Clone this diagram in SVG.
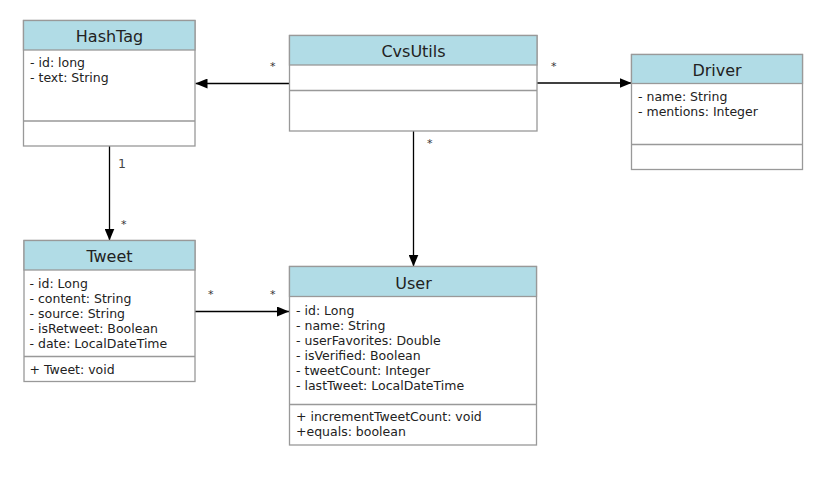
<svg xmlns="http://www.w3.org/2000/svg" width="825" height="493" viewBox="0 0 825 493">
<defs>
<style>
.box{fill:#ffffff;stroke:#999999;stroke-width:1.3}
.hdr{fill:#b1dce6;stroke:#999999;stroke-width:1.3}
.sep{stroke:#999999;stroke-width:1.3;fill:none}
.title{font-family:"DejaVu Sans",Verdana,sans-serif;font-size:16px;fill:#222222;text-anchor:middle}
.attr{font-family:"DejaVu Sans",Verdana,sans-serif;font-size:12.5px;fill:#222222}
.lbl{font-family:"DejaVu Sans",Verdana,sans-serif;font-size:12.5px;fill:#444444}
.star{font-family:"DejaVu Sans",Verdana,sans-serif;font-size:11px;fill:#333333}
.edge{stroke:#000000;stroke-width:1.3;fill:none;marker-end:url(#arr)}
</style>
<marker id="arr" viewBox="0 0 12 10" refX="12" refY="5" markerWidth="12" markerHeight="10" markerUnits="userSpaceOnUse" orient="auto">
<path d="M0,0 L12,5 L0,10 Z" fill="#000000"/>
</marker>
</defs>
<rect width="825" height="493" fill="#ffffff"/>
<g id="connectors">
<line class="edge" x1="289" y1="83.5" x2="195.5" y2="83.5"/>
<text class="star" x="270" y="70">*</text>
<line class="edge" x1="537" y1="83" x2="631.5" y2="83"/>
<text class="star" x="551" y="70">*</text>
<line class="edge" x1="413.5" y1="131" x2="413.5" y2="266.5"/>
<text class="star" x="427" y="147">*</text>
<line class="edge" x1="109.5" y1="146" x2="109.5" y2="240.5"/>
<text class="lbl" x="118" y="168">1</text>
<text class="star" x="121" y="228">*</text>
<line class="edge" x1="195" y1="311.5" x2="289" y2="311.5"/>
<text class="star" x="208" y="298">*</text>
<text class="star" x="270" y="298">*</text>
</g>
<g id="HashTag">
<rect class="box" x="23.5" y="20.5" width="171.5" height="125.5"/>
<rect class="hdr" x="23.5" y="20.5" width="171.5" height="29.5"/>
<line class="sep" x1="23.5" y1="121" x2="195" y2="121"/>
<text class="title" x="109.5" y="42">HashTag</text>
<text class="attr" x="30" y="67">- id: long</text>
<text class="attr" x="30" y="82">- text: String</text>
</g>
<g id="CvsUtils">
<rect class="box" x="289.5" y="35.5" width="247.5" height="95.5"/>
<rect class="hdr" x="289.5" y="35.5" width="247.5" height="29.5"/>
<line class="sep" x1="289.5" y1="90.5" x2="537" y2="90.5"/>
<text class="title" x="413.5" y="56.5">CvsUtils</text>
</g>
<g id="Driver">
<rect class="box" x="631.5" y="54.5" width="171" height="115"/>
<rect class="hdr" x="631.5" y="54.5" width="171" height="29"/>
<line class="sep" x1="631.5" y1="144.5" x2="802.5" y2="144.5"/>
<text class="title" x="717" y="75.5">Driver</text>
<text class="attr" x="638" y="101">- name: String</text>
<text class="attr" x="638" y="116">- mentions: Integer</text>
</g>
<g id="Tweet">
<rect class="box" x="24" y="240.5" width="171" height="141"/>
<rect class="hdr" x="24" y="240.5" width="171" height="29.5"/>
<line class="sep" x1="24" y1="356.5" x2="195" y2="356.5"/>
<text class="title" x="109.5" y="262">Tweet</text>
<text class="attr" x="29.5" y="288">- id: Long</text>
<text class="attr" x="29.5" y="303">- content: String</text>
<text class="attr" x="29.5" y="318">- source: String</text>
<text class="attr" x="29.5" y="333">- isRetweet: Boolean</text>
<text class="attr" x="29.5" y="347.5">- date: LocalDateTime</text>
<text class="attr" x="29.5" y="374">+ Tweet: void</text>
</g>
<g id="User">
<rect class="box" x="289.5" y="266.5" width="247" height="178.5"/>
<rect class="hdr" x="289.5" y="266.5" width="247" height="30"/>
<line class="sep" x1="289.5" y1="404.5" x2="536.5" y2="404.5"/>
<text class="title" x="413.5" y="288.5">User</text>
<text class="attr" x="296" y="315">- id: Long</text>
<text class="attr" x="296" y="330">- name: String</text>
<text class="attr" x="296" y="345">- userFavorites: Double</text>
<text class="attr" x="296" y="359.5">- isVerified: Boolean</text>
<text class="attr" x="296" y="374.5">- tweetCount: Integer</text>
<text class="attr" x="296" y="389.5">- lastTweet: LocalDateTime</text>
<text class="attr" x="296" y="421">+ incrementTweetCount: void</text>
<text class="attr" x="296" y="436">+equals: boolean</text>
</g>
</svg>
